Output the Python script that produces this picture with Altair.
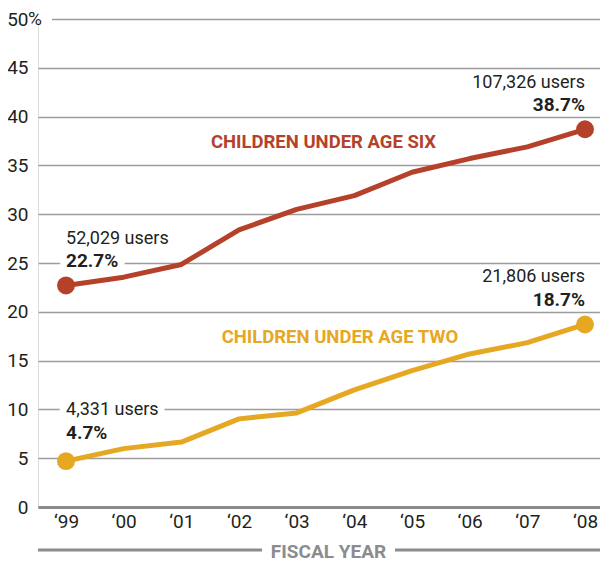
import json
import altair as alt
import pandas as pd

# ---------------- data ----------------
years = [1999, 2000, 2001, 2002, 2003, 2004, 2005, 2006, 2007, 2008]
year_labels = ["‘99", "‘00", "‘01", "‘02", "‘03", "‘04", "‘05", "‘06", "‘07", "‘08"]
under_six = [22.7, 23.55, 24.85, 28.4, 30.5, 31.9, 34.3, 35.7, 36.9, 38.7]
under_two = [4.7, 5.98, 6.65, 9.03, 9.64, 12.0, 13.98, 15.68, 16.84, 18.7]
series_names = ["CHILDREN UNDER AGE SIX", "CHILDREN UNDER AGE TWO"]
users_six = ["52,029 users", "107,326 users"]
users_two = ["4,331 users", "21,806 users"]
y_ticks = [0, 5, 10, 15, 20, 25, 30, 35, 40, 45, 50]

RED = "#b5412a"
GOLD = "#e6a722"
DARK = "#231f20"
GRAY = "#8c8c8e"
FONT = "Roboto, 'DejaVu Sans Condensed', sans-serif"

df = pd.DataFrame({
    "year": years * 2,
    "value": under_six + under_two,
    "series": [series_names[0]] * len(years) + [series_names[1]] * len(years),
})

W, H = 562, 488
xscale = alt.Scale(domain=[1998.514, 2008.26], nice=False, zero=False)
yscale = alt.Scale(domain=[0, 50], nice=False)
color = alt.Color("series:N", scale=alt.Scale(domain=series_names, range=[RED, GOLD]), legend=None)

label_expr = json.dumps(year_labels) + "[datum.value - 1999]"

base = alt.Chart(df)

lines = base.mark_line(strokeWidth=5, strokeJoin="round").encode(
    x=alt.X("year:Q", scale=xscale,
            axis=alt.Axis(values=years, labelExpr=label_expr, grid=False, ticks=False,
                          domainColor="#8a8a8a", domainWidth=3, labelFontSize=19,
                          labelFont=FONT, labelColor=DARK, labelPadding=5,
                          title="FISCAL YEAR", titleFont=FONT, titleFontWeight="bold",
                          titleFontSize=19, titleColor=GRAY, titleX=290, titleY=50,
                          titleBaseline="alphabetic", titleAlign="center")),
    y=alt.Y("value:Q", scale=yscale,
            axis=alt.Axis(values=y_ticks, labelExpr="datum.value == 50 ? '50' : datum.label",
                          grid=True, gridColor="#9d9d9d", gridWidth=1.3, domain=False,
                          ticks=False, labelFontSize=19, labelFont=FONT, labelColor=DARK,
                          labelPadding=10, title=None)),
    color=color,
)

points = base.transform_filter(
    alt.FieldOneOfPredicate(field="year", oneOf=[years[0], years[-1]])
).mark_circle(size=320, opacity=1).encode(x="year:Q", y="value:Q", color=color)


def txt(text, year, value, align, dy, bold=False, size=18, col=DARK, halo=False):
    layers = []
    kw = dict(align=align, baseline="alphabetic", dy=dy, fontSize=size, font=FONT,
              fontWeight="bold" if bold else "normal")
    if halo:
        layers.append(alt.Chart().mark_text(text=text, fill="white", stroke="white",
                                            strokeWidth=14, strokeJoin="round", **kw)
                      .encode(x=alt.datum(year), y=alt.datum(value)))
    layers.append(alt.Chart().mark_text(text=text, color=col, **kw)
                  .encode(x=alt.datum(year), y=alt.datum(value)))
    return layers


ann = []
# start-of-series labels (left)
ann += txt(users_six[0], years[0], under_six[0], "left", -41, halo=True)
ann += txt(f"{under_six[0]}%", years[0], under_six[0], "left", -18, bold=True, size=19, halo=True)
ann += txt(users_two[0], years[0], under_two[0], "left", -46, halo=True)
ann += txt(f"{under_two[0]}%", years[0], under_two[0], "left", -22, bold=True, size=19, halo=True)
# end-of-series labels (right)
ann += txt(users_six[1], years[-1], under_six[-1], "right", -41)
ann += txt(f"{under_six[-1]}%", years[-1], under_six[-1], "right", -18, bold=True, size=19)
ann += txt(users_two[1], years[-1], under_two[-1], "right", -42)
ann += txt(f"{under_two[-1]}%", years[-1], under_two[-1], "right", -18, bold=True, size=19)
# series titles
ann += txt(series_names[0], 2003.465, 36.76, "center", 0, bold=True, size=18.5, col=RED)
ann += txt(series_names[1], 2003.75, 16.8, "center", 0, bold=True, size=18.5, col=GOLD)

# "%" after the 50 tick label, and the gap in the top gridline behind it
gap = alt.Chart().mark_rule(color="white", strokeWidth=4).encode(
    x=alt.value(-10), x2=alt.value(14), y=alt.datum(y_ticks[-1]))
pct = alt.Chart().mark_text(text="%", align="left", baseline="middle", fontSize=19,
                            font=FONT, color=DARK).encode(
    x=alt.value(-10), y=alt.datum(y_ticks[-1]))

# decorative rules beside FISCAL YEAR
rule_l = alt.Chart().mark_rule(color=GRAY, strokeWidth=3).encode(
    x=alt.value(0), x2=alt.value(224), y=alt.value(531))
rule_r = alt.Chart().mark_rule(color=GRAY, strokeWidth=3).encode(
    x=alt.value(357), x2=alt.value(562), y=alt.value(531))

chart = alt.layer(lines, gap, pct, rule_l, rule_r, *ann, points).properties(
    width=W, height=H,
    padding={"left": 30, "top": 11, "right": 0, "bottom": 55},
    autosize=alt.AutoSizeParams(type="none"),
).configure_view(stroke=None).configure(background="white")

chart.save("out.html", embed_options={"renderer": "svg", "actions": False})
